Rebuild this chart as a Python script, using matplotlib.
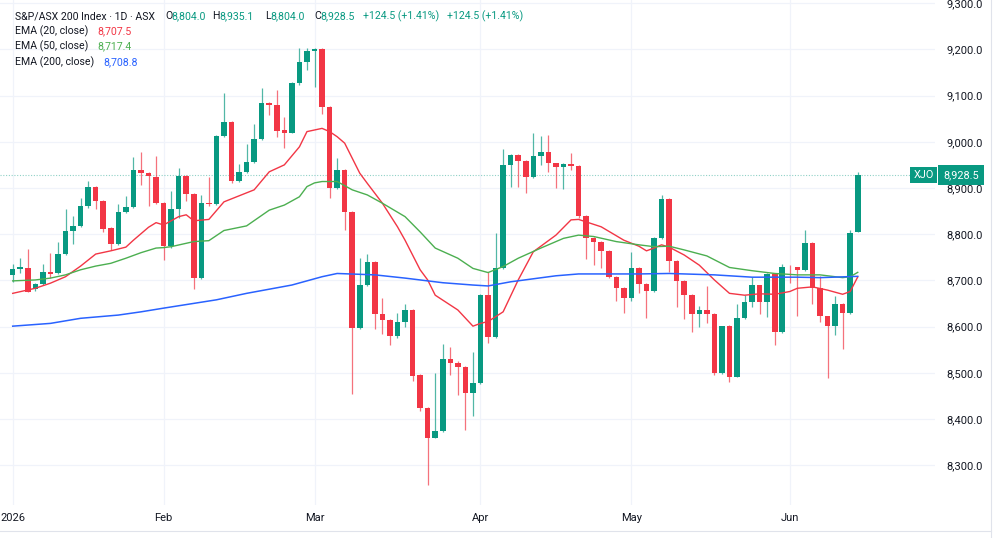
"""
S&P/ASX 200 (XJO) daily candles, Jan - Jun 2026, with EMA 20 / 50 / 200
TradingView-like look, saved as out.png
"""
import numpy as np
import pandas as pd
import matplotlib
matplotlib.use("Agg")
import matplotlib.pyplot as plt
from matplotlib.lines import Line2D

#########################################################
# Data
#########################################################

opens = [8711, 8725, 8726, 8681, 8692, 8718, 8715, 8757, 8806, 8818,
         8860, 8903, 8872, 8813, 8779, 8847, 8858, 8940, 8932, 8924,
         8867, 8775, 8854, 8926, 8887, 8706, 8868, 8865, 9012, 9042,
         8915, 8935, 8957, 9005, 9084, 9079, 9025, 9020, 9127, 9173,
         9197, 9201, 9076, 8899, 8939, 8849, 8597, 8690, 8740, 8627,
         8614, 8580, 8611, 8637, 8495, 8423, 8360, 8375, 8531, 8522,
         8513, 8457, 8477, 8668, 8577, 8726, 8950, 8971, 8958, 8923,
         8969, 8977, 8953, 8945, 8951, 8948, 8840, 8791, 8784, 8764,
         8708, 8684, 8661, 8727, 8693, 8677, 8791, 8876, 8742, 8699,
         8668, 8627, 8637, 8627, 8500, 8602, 8492, 8618, 8654, 8689,
         8654, 8713, 8589, 8730, 8728, 8723, 8782, 8684, 8622, 8601,
         8650, 8630, 8804.0]
highs = [8735, 8749, 8768, 8695, 8736, 8759, 8784, 8854, 8840, 8879,
         8915, 8905, 8873, 8815, 8865, 8883, 8968, 8978, 8935, 8969,
         8869, 8893, 8944, 8928, 8890, 8885, 8924, 9014, 9105, 9045,
         8951, 8995, 9038, 9117, 9086, 9112, 9053, 9130, 9203, 9203,
         9202, 9202, 9077, 8964, 8941, 8851, 8748, 8757, 8742, 8661,
         8616, 8630, 8650, 8639, 8497, 8425, 8500, 8562, 8555, 8525,
         8515, 8546, 8670, 8719, 8802, 8984, 8973, 8973, 8960, 9020,
         9012, 9015, 8955, 8953, 8975, 8950, 8842, 8793, 8786, 8766,
         8710, 8686, 8762, 8730, 8695, 8795, 8885, 8878, 8744, 8701,
         8670, 8645, 8688, 8629, 8602, 8604, 8649, 8668, 8708, 8691,
         8715, 8715, 8735, 8733, 8730, 8809, 8784, 8709, 8624, 8667,
         8652, 8809, 8935.1]
lows = [8697, 8716, 8674, 8678, 8690, 8705, 8713, 8755, 8778, 8816,
        8856, 8854, 8805, 8766, 8777, 8845, 8856, 8906, 8860, 8865,
        8745, 8770, 8835, 8872, 8681, 8703, 8862, 8863, 9010, 8910,
        8913, 8933, 8955, 9003, 9057, 9010, 8986, 9018, 9122, 9155,
        9119, 9061, 8878, 8897, 8809, 8454, 8595, 8688, 8594, 8584,
        8560, 8575, 8600, 8482, 8418, 8257, 8358, 8373, 8495, 8452,
        8376, 8407, 8475, 8564, 8575, 8724, 8903, 8903, 8889, 8921,
        8950, 8935, 8899, 8897, 8938, 8834, 8746, 8733, 8726, 8705,
        8655, 8630, 8655, 8672, 8618, 8675, 8789, 8719, 8642, 8616,
        8589, 8600, 8607, 8495, 8498, 8481, 8490, 8616, 8643, 8627,
        8621, 8560, 8587, 8694, 8624, 8721, 8649, 8611, 8488, 8582,
        8552, 8628, 8804.0]
closes = [8725, 8728, 8676, 8692, 8718, 8714, 8757, 8806, 8818, 8860,
          8903, 8872, 8811, 8779, 8847, 8858, 8940, 8933, 8926, 8867,
          8775, 8854, 8926, 8887, 8706, 8868, 8865, 9012, 9042, 8915,
          8935, 8957, 9005, 9084, 9079, 9024, 9020, 9127, 9173, 9197,
          9200, 9076, 8899, 8939, 8849, 8597, 8690, 8740, 8627, 8614,
          8580, 8611, 8637, 8493, 8423, 8360, 8375, 8531, 8522, 8513,
          8457, 8477, 8668, 8577, 8726, 8950, 8971, 8958, 8923, 8969,
          8977, 8953, 8945, 8951, 8948, 8840, 8791, 8784, 8764, 8708,
          8684, 8661, 8726, 8693, 8677, 8791, 8876, 8742, 8699, 8668,
          8627, 8637, 8627, 8500, 8602, 8492, 8618, 8654, 8689, 8654,
          8713, 8589, 8728, 8728, 8723, 8782, 8684, 8622, 8601, 8650,
          8630, 8802, 8928.5]

# trading days (ASX holidays skipped)
holidays = ["2026-01-26", "2026-04-03", "2026-04-06", "2026-06-08"]
dates = pd.bdate_range("2026-01-02", periods=len(closes), freq="C",
                       holidays=holidays)
month_labels = ["2026", "Feb", "Mar", "Apr", "May", "Jun"]

# EMA lines, sampled at candle index
ema20_idx = [0, 3, 5, 7, 9, 11, 13, 15, 16, 18, 19, 20, 22, 23, 24, 26, 28,
             30, 32, 34, 36, 38, 39, 41, 42, 43, 44, 46, 47, 49, 51, 52, 54,
             55, 56, 59, 61, 62, 63, 65, 67, 69, 72, 74, 75, 78, 81, 83, 84,
             85, 86, 87, 89, 91, 93, 95, 97, 99, 101, 103, 104, 106, 108,
             110, 111, 112]
ema20_val = [8672, 8683, 8694, 8708, 8731, 8757, 8764, 8772, 8787, 8815,
             8825, 8820, 8838, 8842, 8829, 8832, 8870, 8883, 8896, 8935,
             8950, 8989, 9022, 9029, 9022, 9011, 8997, 8932, 8910, 8867,
             8816, 8787, 8723, 8701, 8668, 8636, 8601, 8607, 8611, 8632,
             8701, 8762, 8798, 8831, 8832, 8816, 8787, 8774, 8764, 8770,
             8777, 8772, 8755, 8733, 8701, 8672, 8668, 8671, 8670, 8676,
             8683, 8686, 8679, 8670, 8676, 8707.5]

ema50_idx = [0, 3, 5, 7, 9, 11, 13, 15, 17, 19, 20, 21, 24, 26, 28, 31, 34,
             36, 38, 39, 40, 41, 43, 45, 47, 49, 52, 54, 56, 59, 61, 63, 65,
             67, 70, 73, 75, 77, 80, 83, 85, 87, 89, 92, 95, 98, 101, 104,
             107, 110, 111, 112]
ema50_val = [8699, 8701, 8705, 8712, 8723, 8731, 8737, 8748, 8760, 8770,
             8771, 8773, 8784, 8786, 8808, 8818, 8852, 8863, 8881, 8903,
             8911, 8914, 8914, 8896, 8885, 8867, 8838, 8805, 8770, 8748,
             8726, 8717, 8730, 8748, 8770, 8791, 8798, 8795, 8784, 8777,
             8773, 8774, 8766, 8753, 8728, 8721, 8715, 8712, 8712, 8706,
             8708, 8717.4]

ema200_idx = [0, 5, 9, 14, 17, 20, 27, 31, 37, 41, 43, 48, 52, 57, 61, 63,
              66, 72, 75, 79, 83, 87, 93, 98, 104, 107, 112]
ema200_val = [8601, 8607, 8618, 8625, 8632, 8640, 8658, 8672, 8690, 8708,
              8715, 8712, 8705, 8695, 8690, 8688, 8697, 8710, 8714, 8714,
              8714, 8715, 8712, 8707, 8707, 8706, 8708.8]

price_ticks = list(range(8300, 9301, 100))

#########################################################
# Colors / fonts
#########################################################
UP = "#089981"
DOWN = "#F23645"
C_EMA20 = "#F23645"
C_EMA50 = "#4CAF50"
C_EMA200 = "#2962FF"
TXT = "#131722"
GRID = "#F0F3FA"
BORDER = "#E0E3EB"

plt.rcParams["font.family"] = ["Roboto", "DejaVu Sans"]

#########################################################
# Figure
#########################################################
W, H = 1000, 538
fig = plt.figure(figsize=(W / 100, H / 100), dpi=100)
fig.patch.set_facecolor("white")


def fx(px):
    return px / W


def fy(py):
    return 1 - py / H


pane_right, pane_bottom = 935, 505
ax = fig.add_axes([0, fy(pane_bottom), fx(pane_right), pane_bottom / H])
ax.set_facecolor("white")
for s in ax.spines.values():
    s.set_visible(False)

x = np.arange(len(closes))
o = np.array(opens)
c = np.array(closes)
hi = np.array(highs)
lo = np.array(lows)
up = c >= o
cols = np.where(up, UP, DOWN)

# wicks and bodies
ax.vlines(x, lo, hi, colors=cols, linewidth=0.9, alpha=0.7, zorder=2)
body_h = np.maximum(np.abs(c - o), 1.6)
ax.bar(x, body_h, bottom=np.minimum(o, c), width=0.74, color=cols,
       linewidth=0, zorder=3)

# EMA lines
ax.plot(ema20_idx, ema20_val, color=C_EMA20, lw=1.0, zorder=4)
ax.plot(ema50_idx, ema50_val, color=C_EMA50, lw=1.0, zorder=4)
ax.plot(ema200_idx, ema200_val, color=C_EMA200, lw=1.1, zorder=4)

# last price line
last = closes[-1]
ax.axhline(last, color=UP, lw=0.8, ls=(0, (1, 1.5)), alpha=0.45, zorder=1)

# axis limits (index 0 sits ~13 px from the left edge)
step = 7.545
x0 = -12.7 / step
ax.set_xlim(x0, x0 + pane_right / step)
ax.set_ylim(8214.0, 9306.8)

# month ticks = first trading day of each month
months = dates.month
tick_pos = [i for i in range(len(dates)) if i == 0 or months[i] != months[i - 1]]
ax.set_xticks(tick_pos)
ax.set_xticklabels(month_labels)
ax.set_yticks(price_ticks)
ax.set_yticklabels([f"{v:,.1f}" for v in price_ticks])
ax.yaxis.tick_right()
ax.tick_params(axis="y", length=0, pad=8, labelsize=8, labelcolor=TXT)
ax.tick_params(axis="x", length=0, pad=6, labelsize=8, labelcolor=TXT)
ax.grid(True, color=GRID, lw=0.9, zorder=0)
ax.set_axisbelow(True)

# price tags on the scale
ax.annotate("XJO", xy=(1, last), xycoords=("axes fraction", "data"),
            xytext=(-8.3, 0), textcoords="offset points", ha="center",
            va="center", fontsize=7.8, color="white", zorder=6,
            bbox=dict(boxstyle="square,pad=0.3", fc=UP, ec="none"),
            annotation_clip=False)
ax.annotate(f"{last:,.1f}", xy=(1, last), xycoords=("axes fraction", "data"),
            xytext=(18.7, 0), textcoords="offset points", ha="center",
            va="center", fontsize=7.8, color="white", zorder=6,
            bbox=dict(boxstyle="square,pad=0.45", fc=UP, ec="none"),
            annotation_clip=False)

# frame lines of the price / time scales
fig.add_artist(Line2D([fx(991), fx(991)], [0, 1], color=BORDER, lw=0.8))
fig.add_artist(Line2D([0, fx(991)], [fy(531), fy(531)], color=BORDER, lw=0.8))

#########################################################
# Legend block (top left)
#########################################################
FS = 7.6
row1 = [
    (15, "S&P/ASX 200 Index · 1D · ASX", TXT),
    (165, "O", TXT), (171.5, f"{opens[-1]:,.1f}", UP),
    (212, "H", TXT), (219, f"{highs[-1]:,.1f}", UP),
    (265, "L", TXT), (270, f"{lows[-1]:,.1f}", UP),
    (314, "C", TXT), (320.5, f"{closes[-1]:,.1f}", UP),
    (363, "+124.5 (+1.41%)", UP),
    (447, "+124.5 (+1.41%)", UP),
]
for px, s, col in row1:
    fig.text(fx(px), fy(16), s, color=col, fontsize=FS, va="center", ha="left")

ema_rows = [
    (31, "EMA (20, close)", 97, ema20_val[-1], C_EMA20),
    (46.5, "EMA (50, close)", 97, ema50_val[-1], C_EMA50),
    (62, "EMA (200, close)", 103, ema200_val[-1], C_EMA200),
]
for py, name, vx, val, col in ema_rows:
    fig.text(fx(15), fy(py), name, color=TXT, fontsize=FS, va="center")
    fig.text(fx(vx), fy(py), f"{val:,.1f}", color=col, fontsize=FS, va="center")

fig.savefig("out.png", dpi=100, facecolor="white")
